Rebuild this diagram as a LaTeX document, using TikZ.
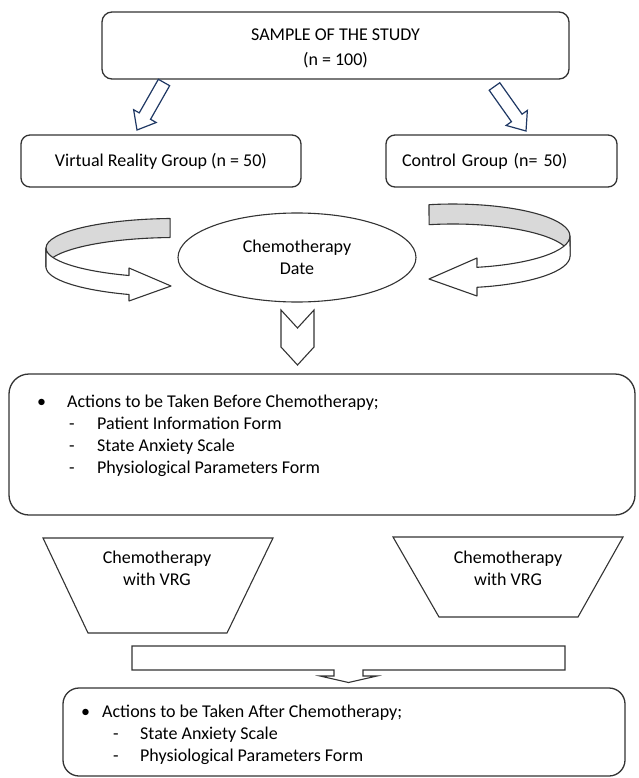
\documentclass[tikz,border=0pt]{standalone}
\usepackage{fontspec}
\setmainfont{Carlito}
\usetikzlibrary{arrows.meta,positioning,shapes.geometric,calc}
\definecolor{boxline}{HTML}{333333}
\definecolor{navy}{HTML}{1F3864}
\definecolor{ribbongrey}{HTML}{D9D9D9}
\tikzset{
  basefont/.style={font=\fontsize{18}{22}\selectfont},
  sbox/.style={basefont, draw=boxline, fill=white, rounded corners=9pt, line width=1.3pt, align=center, inner sep=0pt},
  bigbox/.style={sbox, rounded corners=20pt},
  blockarrow/.style={draw=navy, fill=white, line width=1.2pt, line join=miter},
  ribbonback/.style={draw=boxline, fill=ribbongrey, line width=1.1pt, line join=round},
  ribbonfront/.style={draw=boxline, fill=white, line width=1.1pt, line join=round},
  trapline/.style={draw=boxline, fill=white, line width=1.1pt},
  plaintext/.style={basefont, align=center, inner sep=0pt},
  listtext/.style={basefont, align=left, inner sep=0pt, anchor=north west},
}
\begin{document}
\begin{tikzpicture}[x=1pt, y=-1pt]
  \useasboundingbox (0,0) rectangle (638,778);
  % sample and groups
  \node[sbox, minimum width=467pt, minimum height=67pt, rounded corners=10pt] (sample) at (335.5,45.5) {\rule{0pt}{18pt}SAMPLE OF THE STUDY\\[3pt](n = 100)};
  \node[sbox, minimum width=280pt, minimum height=52pt] (vrgroup) at (161,161) {Virtual Reality Group (n = 50)};
  \node[sbox, minimum width=231pt, minimum height=52pt, text width=199pt, align=left, inner xsep=16pt] (ctrlgroup) at (501.5,161) {Control Group (n= 50)};
  \draw[blockarrow] (158.35,79.3) -- (169.65,85.7) -- (150.55,119.3) -- (156.2,122.5) -- (137,130)
    -- (133.6,109.7) -- (139.25,112.9) -- cycle;
  \draw[blockarrow] (489.2,90.26) -- (499.8,82.74) -- (522.05,114.18) -- (527.36,110.43) -- (526,131)
    -- (506.14,125.45) -- (511.45,121.7) -- cycle;
  % chemotherapy date with ribbons
  \node[ellipse, draw=boxline, line width=1.1pt, minimum width=238pt, minimum height=89pt, plaintext] (chemodate) at (297,257.5) {Chemotherapy\\Date};
  \draw[ribbonback] (170.1,218.5) arc[start angle=267.4, end angle=180, x radius=130, y radius=29.5]
    -- (46,267) arc[start angle=180, end angle=267.4, x radius=130, y radius=29.5] -- cycle;
  \draw[ribbonfront] (46,248) arc[start angle=180, end angle=111.2, x radius=130, y radius=29.5]
    -- (129,268) -- (171,286) -- (129,301) -- (129,294.5)
    arc[start angle=111.2, end angle=180, x radius=130, y radius=29.5] -- cycle;
  \draw[ribbonback] (429,204.7) arc[start angle=258.2, end angle=360, x radius=117, y radius=32]
    -- (570,256) arc[start angle=360, end angle=258.2, x radius=117, y radius=32] -- cycle;
  \draw[ribbonfront] (570,236) arc[start angle=0, end angle=78.2, x radius=117, y radius=32]
    -- (477,258) -- (429,279) -- (477,296) -- (477,287.3)
    arc[start angle=78.2, end angle=0, x radius=117, y radius=32] -- cycle;
  \draw[trapline] (281,310) -- (297.5,328) -- (314,310) -- (314,347) -- (297.5,365) -- (281,347) -- cycle;
  % before chemotherapy
  \node[bigbox, minimum width=626pt, minimum height=141pt] (before) at (322,444.5) {};
  \node[listtext] (beforetxt) at (37,394.5) {\makebox[30pt][l]{•}Actions to be Taken Before Chemotherapy;\\
    \hspace*{32pt}\makebox[28pt][l]{-}Patient Information Form\\
    \hspace*{32pt}\makebox[28pt][l]{-}State Anxiety Scale\\
    \hspace*{32pt}\makebox[28pt][l]{-}Physiological Parameters Form};
  % chemotherapy sessions
  \draw[trapline] (43,538) -- (273,538) -- (227,633) -- (88,633) -- cycle;
  \node[plaintext] (sessvr) at (157,568) {Chemotherapy\\with VRG};
  \draw[trapline] (393,537) -- (623,537) -- (578,617) -- (439,617) -- cycle;
  \node[plaintext] (sessctrl) at (508,568) {Chemotherapy\\with VRG};
  \draw[trapline, line join=miter] (132,646) -- (565,646) -- (565,670) -- (363,670) -- (363,676) -- (377,676)
    -- (348.5,682.5) -- (320,676) -- (334,676) -- (334,670) -- (132,670) -- cycle;
  % after chemotherapy
  \node[sbox, rounded corners=16pt, minimum width=562pt, minimum height=88pt] (after) at (344,732) {};
  \node[listtext] (aftertxt) at (81,704.5) {\makebox[21pt][l]{•}Actions to be Taken After Chemotherapy;\\
    \hspace*{32pt}\makebox[27pt][l]{-}State Anxiety Scale\\
    \hspace*{32pt}\makebox[27pt][l]{-}Physiological Parameters Form};
\end{tikzpicture}
\end{document}
